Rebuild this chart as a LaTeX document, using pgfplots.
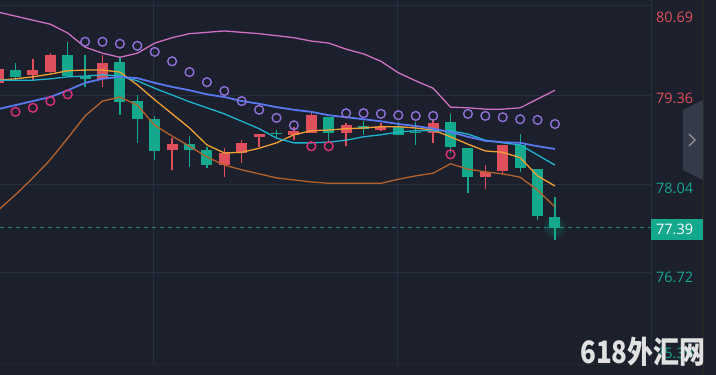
\documentclass[border=0pt]{standalone}
\usepackage{pgfplots}
\pgfplotsset{compat=1.18}
\usepackage{pgfplotstable}
\usepackage{fontspec}
\setmainfont{Open Sans}
\newfontfamily\cjk{Noto Sans CJK SC}
\usepackage{graphicx}

\definecolor{bg}{HTML}{1B202C}
\definecolor{gridc}{HTML}{283040}
\definecolor{cred}{HTML}{E0505C}
\definecolor{cgreen}{HTML}{14A88C}
\definecolor{cpink}{HTML}{D070C0}
\definecolor{cblue}{HTML}{5A78EE}
\definecolor{ccyan}{HTML}{1FB4CE}
\definecolor{corange}{HTML}{F2A033}
\definecolor{cbrown}{HTML}{B4622C}
\definecolor{sarpink}{HTML}{E0307A}
\definecolor{sarpurple}{HTML}{9070D8}
\definecolor{dashc}{HTML}{1A8A78}
\definecolor{tabc}{HTML}{363B49}

% red (rising) candles: x, body top, body bottom, high, low
\pgfplotstableread{
x top bot hi lo
-1 79.75 79.54 79.79 79.51
1 79.73 79.66 79.89 79.58
2 79.95 79.70 79.98 79.69
5 79.83 79.60 79.95 79.48
9 78.63 78.54 78.72 78.25
12 78.50 78.32 78.57 78.14
13 78.65 78.50 78.69 78.35
14 78.78 78.74 78.78 78.59
16 78.83 78.77 78.89 78.69
17 79.06 78.80 79.09 78.80
19 78.91 78.80 78.94 78.60
21 78.89 78.84 78.94 78.83
24 78.94 78.80 79.00 78.65
27 78.22 78.14 78.32 77.97
28 78.62 78.23 78.62 78.17
}\redc

% green (falling) candles
\pgfplotstableread{
x top bot hi lo
0 79.73 79.63 79.83 79.58
3 79.95 79.64 80.15 79.63
4 79.64 79.60 79.95 79.48
6 79.85 79.26 79.91 79.06
7 79.27 79.00 79.36 78.65
8 79.00 78.53 79.05 78.40
10 78.63 78.54 78.75 78.29
11 78.54 78.32 78.59 78.28
15 78.80 78.78 78.84 78.72
18 79.03 78.80 79.03 78.65
20 78.90 78.86 78.97 78.77
22 78.89 78.77 78.96 78.77
23 78.81 78.79 78.96 78.62
25 78.96 78.59 79.08 78.50
26 78.57 78.14 78.57 77.91
29 78.62 78.28 78.78 78.22
30 78.26 77.56 78.26 77.51
31 77.55 77.39 77.85 77.21
}\greenc

\pgfplotstableread{
x upper blue cyan orange brown
-1 80.59 79.15 79.58 79.58 77.65
0 80.53 79.21 79.58 79.60 77.88
1 80.47 79.27 79.58 79.63 78.13
2 80.41 79.33 79.60 79.67 78.40
3 80.28 79.43 79.63 79.72 78.72
4 80.07 79.54 79.64 79.73 79.05
5 79.98 79.60 79.66 79.73 79.27
6 79.92 79.63 79.64 79.70 79.33
7 79.98 79.61 79.57 79.51 79.21
8 80.13 79.54 79.46 79.29 78.91
9 80.21 79.48 79.36 79.08 78.75
10 80.27 79.43 79.26 78.87 78.60
11 80.29 79.37 79.17 78.62 78.44
12 80.31 79.33 79.08 78.50 78.32
13 80.29 79.27 78.97 78.51 78.25
14 80.27 79.23 78.86 78.57 78.19
15 80.24 79.18 78.72 78.65 78.13
16 80.21 79.14 78.65 78.77 78.10
17 80.16 79.11 78.65 78.83 78.07
18 80.13 79.06 78.66 78.84 78.05
19 80.04 79.03 78.69 78.86 78.05
20 79.97 79.00 78.74 78.87 78.05
21 79.86 78.97 78.77 78.89 78.05
22 79.69 78.93 78.81 78.89 78.11
23 79.57 78.90 78.83 78.87 78.16
24 79.46 78.86 78.83 78.84 78.20
25 79.18 78.81 78.83 78.74 78.34
26 79.17 78.74 78.78 78.63 78.26
27 79.15 78.68 78.69 78.53 78.22
28 79.15 78.66 78.65 78.51 78.19
29 79.17 78.65 78.62 78.43 78.14
30 79.30 78.60 78.47 78.16 77.95
31 79.43 78.56 78.32 78.01 77.70
}\lines

\pgfplotstableread{
x y
-1 79.03
0 79.11
1 79.17
2 79.27
3 79.37
17 78.60
18 78.60
25 78.48
}\sarlow

\pgfplotstableread{
x y
4 80.15
5 80.15
6 80.12
7 80.09
8 80.00
9 79.86
10 79.70
11 79.55
12 79.42
13 79.27
14 79.14
15 79.02
16 78.91
19 79.09
20 79.09
21 79.08
22 79.06
23 79.05
24 79.05
26 79.08
27 79.05
28 79.03
29 79.00
30 78.99
31 78.93
}\sarhigh

\pgfplotsset{
  candle/.style 2 args={only marks, mark=*, mark size=0pt,
    mark options={draw opacity=0, fill opacity=0},
    error bars/.cd, y dir=both, y explicit, error mark=none,
    error bar style={line width=#1, line cap=butt, color=#2}},
  glow/.style={only marks, mark=*, mark size=#1,
    mark options={draw=cgreen, draw opacity=0, fill=cgreen, fill opacity=0.1}},
}

\begin{document}
\begin{tikzpicture}
\path[use as bounding box, fill=bg] (0,0) rectangle (716bp,375bp);
\begin{axis}[
  at={(0bp,10bp)}, anchor=south west,
  scale only axis, width=651bp, height=365bp,
  xmin=-0.891, xmax=36.52, ymin=75.354, ymax=80.7695,
  axis line style={draw=none},
  ytick={76.72,78.04,79.36,80.69},
  xtick={7.902,21.925},
  yticklabels={}, xticklabels={},
  major tick length=0pt,
  grid=major, grid style={line width=0.9bp, color=gridc},
  clip=true,
]
% current price dashed line
\addplot[dashc, line width=1bp, dash pattern=on 4bp off 4bp] coordinates {(-0.9,77.39) (36.52,77.39)};
% glow
\addplot[glow=11] coordinates {(31,77.39)};
\addplot[glow=8] coordinates {(31,77.39)};
% wicks
\addplot[candle={1.3bp}{cred}]
  table[x=x, y=hi, y error plus expr=0, y error minus expr=\thisrow{hi}-\thisrow{lo}] {\redc};
\addplot[candle={1.3bp}{cgreen}]
  table[x=x, y=hi, y error plus expr=0, y error minus expr=\thisrow{hi}-\thisrow{lo}] {\greenc};
% bodies
\addplot[candle={11bp}{cred}]
  table[x=x, y=top, y error plus expr=0, y error minus expr=\thisrow{top}-\thisrow{bot}] {\redc};
\addplot[candle={11bp}{cgreen}]
  table[x=x, y=top, y error plus expr=0, y error minus expr=\thisrow{top}-\thisrow{bot}] {\greenc};
% indicator lines
\addplot[cpink, line width=1.3bp, mark=none] table[x=x, y=upper] {\lines};
\addplot[cbrown, line width=1.3bp, mark=none] table[x=x, y=brown] {\lines};
\addplot[corange, line width=1.3bp, mark=none] table[x=x, y=orange] {\lines};
\addplot[ccyan, line width=1.3bp, mark=none] table[x=x, y=cyan] {\lines};
\addplot[cblue, line width=1.8bp, mark=none] table[x=x, y=blue] {\lines};
% SAR
\addplot[only marks, mark=o, mark size=4.4pt, mark options={draw=sarpink, line width=1.4bp}] table[x=x, y=y] {\sarlow};
\addplot[only marks, mark=o, mark size=4.4pt, mark options={draw=sarpurple, line width=1.4bp}] table[x=x, y=y] {\sarhigh};
\end{axis}
% frame lines
\draw[gridc, line width=1bp] (651bp,10bp) -- (651bp,375bp);
\draw[color=black!85, line width=1bp] (0,10bp) -- (703bp,10bp);
\draw[color=black!85, line width=1.5bp] (703bp,0) -- (703bp,375bp);
% price scale labels
\begin{scope}[every node/.style={anchor=west, inner sep=0pt, font=\fontsize{14.5}{16}\selectfont}]
\node[text=cred] at (656bp,358bp) {80.69};
\node[text=cred] at (656bp,277bp) {79.36};
\node[text=cgreen] at (656bp,187bp) {78.04};
\node[text=cgreen] at (656bp,98bp) {76.72};
\node[text=cgreen] at (656bp,22bp) {75.39};
\fill[cgreen] (651bp,135bp) rectangle (703bp,156bp);
\node[text=white] at (656bp,145.5bp) {77.39};
\end{scope}
% side tab
\fill[tabc] (683bp,265bp) -- (703bp,275bp) -- (703bp,195bp) -- (683bp,205bp) -- cycle;
\draw[color=gray!80, line width=1.3bp] (689bp,241bp) -- (695bp,235bp) -- (689bp,229bp);
% watermark
\node[anchor=center, inner sep=0pt, text=white!85!gray, opacity=0.95] at (643bp,23bp)
  {\scalebox{0.84}[1]{\cjk\bfseries\fontsize{31}{31}\selectfont 618外汇网}};
\end{tikzpicture}
\end{document}
